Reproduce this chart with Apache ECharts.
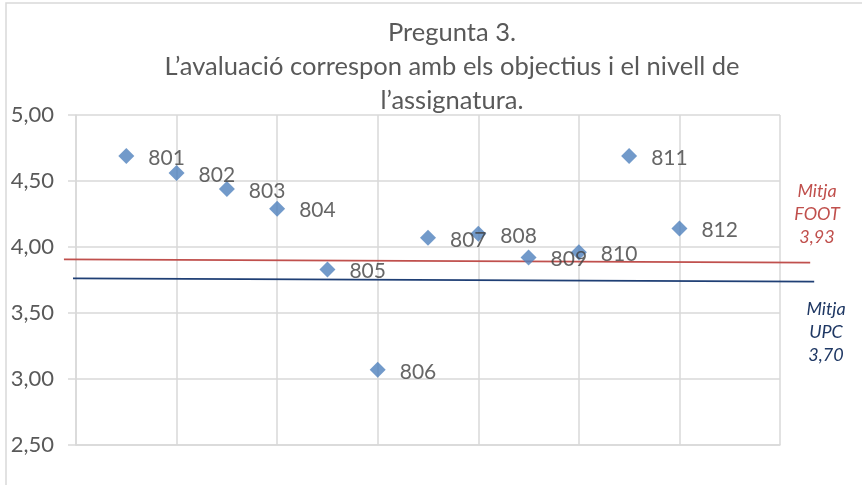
<!DOCTYPE html>
<html>
<head>
<meta charset="utf-8">
<script src="https://cdn.jsdelivr.net/npm/echarts@6/dist/echarts.min.js"></script>
<style>
  html, body { margin: 0; padding: 0; background: #fff; }
  #main { width: 862px; height: 485px; }
</style>
</head>
<body>
<div id="main"></div>
<script type="text/javascript">
    // dades llegides del gràfic
    var codes = ['801', '802', '803', '804', '805', '806', '807', '808', '809', '810', '811', '812'];
    var xPos = [0.5, 1, 1.5, 2, 2.5, 3, 3.5, 4, 4.5, 5, 5.5, 6];
    var scores = [4.69, 4.56, 4.44, 4.29, 3.83, 3.07, 4.07, 4.10, 3.92, 3.96, 4.69, 4.14];
    // línies de mitjana (tal com es veuen dibuixades, surten fora de l'àrea)
    var footLine = [[-0.12, 3.907], [7.30, 3.881]];
    var upcLine = [[-0.03, 3.763], [7.34, 3.737]];

    var points = [];
    for (var i = 0; i < codes.length; i++) {
        points.push({ value: [xPos[i], scores[i]], name: codes[i] });
    }

    var myChart = echarts.init(document.getElementById('main'));
    var font = 'Lato, "Open Sans", sans-serif';

    var option = {
        animation: false,
        title: {
            text: 'Pregunta 3.\nL\u2019avaluació correspon amb els objectius i el nivell de\nl\u2019assignatura.',
            left: 452,
            top: 16,
            padding: 0,
            textAlign: 'center',
            textStyle: {
                fontFamily: font,
                fontSize: 25.5,
                fontWeight: 'normal',
                color: '#595959',
                lineHeight: 34
            }
        },
        grid: { left: 76, top: 115, right: 82, bottom: 40 },
        xAxis: {
            type: 'value',
            min: 0,
            max: 7,
            interval: 1,
            axisLine: { show: true, lineStyle: { color: '#d9d9d9', width: 1.5 } },
            axisTick: { show: false },
            axisLabel: { show: false },
            splitLine: { show: true, lineStyle: { color: '#d9d9d9', width: 1.5 } }
        },
        yAxis: {
            type: 'value',
            min: 2.5,
            max: 5,
            interval: 0.5,
            axisLine: { show: true, lineStyle: { color: '#d9d9d9', width: 1.5 } },
            axisTick: { show: true, length: 8, lineStyle: { color: '#d9d9d9', width: 1.5 } },
            axisLabel: {
                margin: 22,
                fontFamily: font,
                fontSize: 22,
                color: '#595959',
                formatter: function (v) { return v.toFixed(2).replace('.', ','); }
            },
            splitLine: { show: true, lineStyle: { color: '#d9d9d9', width: 1.5 } }
        },
        series: [
            {
                type: 'scatter',
                data: points,
                symbol: 'diamond',
                symbolSize: 16,
                z: 5,
                itemStyle: { color: '#4f81bd' },
                label: {
                    show: true,
                    position: 'right',
                    distance: 14,
                    offset: [0, 2],
                    formatter: '{b}',
                    fontFamily: font,
                    fontSize: 21,
                    color: '#404040'
                }
            }
        ],
        graphic: [
            {
                type: 'rect',
                shape: { x: 6, y: 3, width: 900, height: 600 },
                style: { fill: null, stroke: '#d9d9d9', lineWidth: 1.5 },
                silent: true
            },
            {
                type: 'text',
                x: 817, y: 180,
                style: {
                    text: 'Mitja\nFOOT\n3,93',
                    textAlign: 'center',
                    fill: '#c0504d',
                    font: 'italic 18px ' + font,
                    lineHeight: 23
                }
            },
            {
                type: 'text',
                x: 826, y: 298,
                style: {
                    text: 'Mitja\nUPC\n3,70',
                    textAlign: 'center',
                    fill: '#1f3864',
                    font: 'italic 18px ' + font,
                    lineHeight: 23
                }
            }
        ]
    };

    myChart.setOption(option);

    // les línies de mitjana passen per l'escala dels eixos, però sense retall
    function meanLine(id, pts, color) {
        var a = myChart.convertToPixel({ gridIndex: 0 }, pts[0]);
        var b = myChart.convertToPixel({ gridIndex: 0 }, pts[1]);
        return {
            id: id,
            type: 'line',
            silent: true,
            z: 3,
            shape: { x1: a[0], y1: a[1], x2: b[0], y2: b[1] },
            style: { stroke: color, lineWidth: 1.8 }
        };
    }
    myChart.setOption({
        graphic: [
            meanLine('foot', footLine, '#c0504d'),
            meanLine('upc', upcLine, '#1f3f75')
        ]
    });
</script>
</body>
</html>
